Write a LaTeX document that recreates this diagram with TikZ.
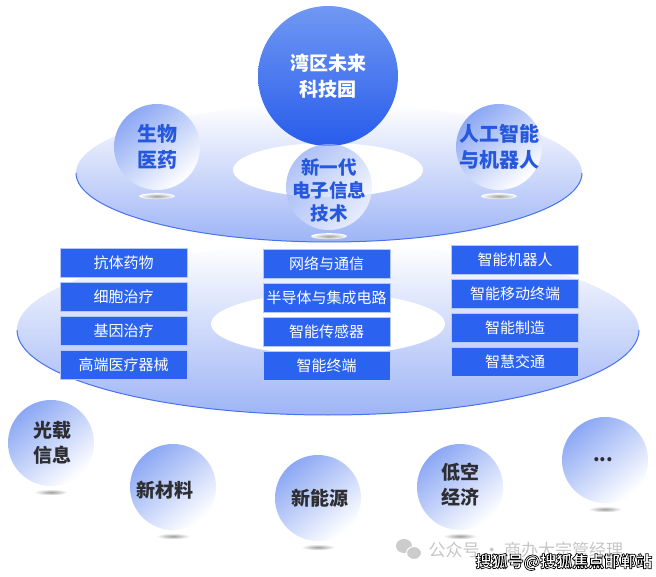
\documentclass[tikz,border=0pt]{standalone}
\usepackage{fontspec}
\setmainfont{Noto Sans CJK SC}
\usepackage{tikz}
\usetikzlibrary{positioning}
\definecolor{itemblue}{RGB}{43,99,240}
\definecolor{coreblue}{RGB}{40,92,235}
\definecolor{coretop}{RGB}{112,152,243}
\definecolor{diskblue}{RGB}{158,180,246}
\definecolor{rimblue}{RGB}{70,115,236}
\definecolor{ballblue}{RGB}{140,168,244}
\definecolor{labelblue}{RGB}{38,88,222}
\definecolor{labelgray}{RGB}{45,45,50}
\newcommand{\outlinetext}[1]{\special{pdf:literal direct 2 Tr 0.7 w 0 G}#1\special{pdf:literal direct 0 Tr}}
\tikzset{
  itembox/.style={fill=itemblue, draw=itemblue!35, line width=0.8pt, text=white,
    minimum width=127, minimum height=29, inner sep=0pt,
    font=\fontsize{15}{18}\selectfont},
  ball/.style={circle, minimum size=86, inner sep=0pt,
    top color=ballblue, bottom color=white, shading angle=40},
  bluetext/.style={text=labelblue, align=center, font=\fontsize{20}{26}\selectfont\bfseries},
  graytext/.style={text=labelgray, align=center, font=\fontsize{19}{25}\selectfont\bfseries},
  shadowmark/.style={inner color=gray!75, outer color=white}
}

\begin{document}
\begin{tikzpicture}[x=1pt,y=1pt]
\useasboundingbox[fill=white] (0,0) rectangle (656,-577);
% lower disk
\shade[top color=white, bottom color=diskblue] (328,-330) ellipse[x radius=311, y radius=85];
\draw[rimblue, line width=1pt] (17,-330) arc[start angle=180, end angle=360, x radius=311, y radius=85];
\fill[white] (328,-324) ellipse[x radius=117, y radius=31];
% upper disk
\shade[top color=white, bottom color=diskblue] (329,-173) ellipse[x radius=253, y radius=69];
\draw[rimblue, line width=1pt] (76,-173) arc[start angle=180, end angle=360, x radius=253, y radius=69];
\fill[white] (328,-170) ellipse[x radius=95, y radius=27];

\node[circle, minimum size=140, inner sep=0pt, top color=coretop, bottom color=coreblue,
  text=white, align=center, font=\fontsize{19}{26}\selectfont\bfseries] (core) at (328,-76)
  {湾区未来\\科技园};

% fields
\node[ball] (bio) at (157,-147) {};
\node[ball] (ai) at (499,-147) {};
\node[ball, fill opacity=0.7] (info) at (329,-187) {};
\node[bluetext] (bio-t) at (bio.center) {生物\\医药};
\node[bluetext] (ai-t) at (ai.center) {人工智能\\与机器人};
\node[bluetext, font=\fontsize{18.5}{23}\selectfont\bfseries] (info-t) at ([yshift=-3]info.center) {新一代\\电子信息\\技术};
\foreach \b in {bio,ai,info}
  \shade[shadowmark] ([yshift=-6]\b.south) ellipse[x radius=18, y radius=3];

% items
\foreach \t [count=\i] in {抗体药物,细胞治疗,基因治疗,高端医疗器械}
  \node[itembox] (bio\i) at (123.5,-262.5-34*\i+34) {\t};
\foreach \t [count=\i] in {网络与通信,半导体与集成电路,智能传感器,智能终端}
  \node[itembox] (info\i) at (326.5,-263.5-34*\i+34) {\t};
\foreach \t [count=\i] in {智能机器人,智能移动终端,智能制造,智慧交通}
  \node[itembox] (ai\i) at (515,-259.5-34*\i+34) {\t};

% other industries
\node[ball] (optic) at (51,-443) {};
\node[ball] (material) at (173,-487) {};
\node[ball] (energy) at (318,-498) {};
\node[ball] (lowalt) at (460,-487) {};
\node[ball] (more) at (605,-460) {};
\node[graytext] (optic-t) at ([xshift=2]optic.center) {光载\\信息};
\node[graytext] (material-t) at ([xshift=-8,yshift=-3]material.center) {新材料};
\node[graytext] (energy-t) at ([xshift=2]energy.center) {新能源};
\node[graytext] (lowalt-t) at ([yshift=2]lowalt.center) {低空\\经济};
\node[graytext] (more-t) at ([xshift=-2]more.center) {...};
\foreach \b in {optic,material,energy,lowalt,more}
  \shade[shadowmark] ([yshift=-6]\b.south) ellipse[x radius=17, y radius=3];

% watermark
\fill[gray!40] (404,-546) ellipse[x radius=8, y radius=7];
\fill[gray!40, draw=white, line width=1pt] (414,-553) ellipse[x radius=7.5, y radius=6.5];
\node[anchor=west, text=gray!45, font=\fontsize{17}{20}\selectfont] (mark1) at (425,-550) {公众号 · 商办大宗管经理};
\node[anchor=west, text=white, font=\fontsize{16}{19}\selectfont\bfseries] (mark2) at (472,-562) {\outlinetext{搜狐号@搜狐焦点邯郸站}};
\end{tikzpicture}
\end{document}
